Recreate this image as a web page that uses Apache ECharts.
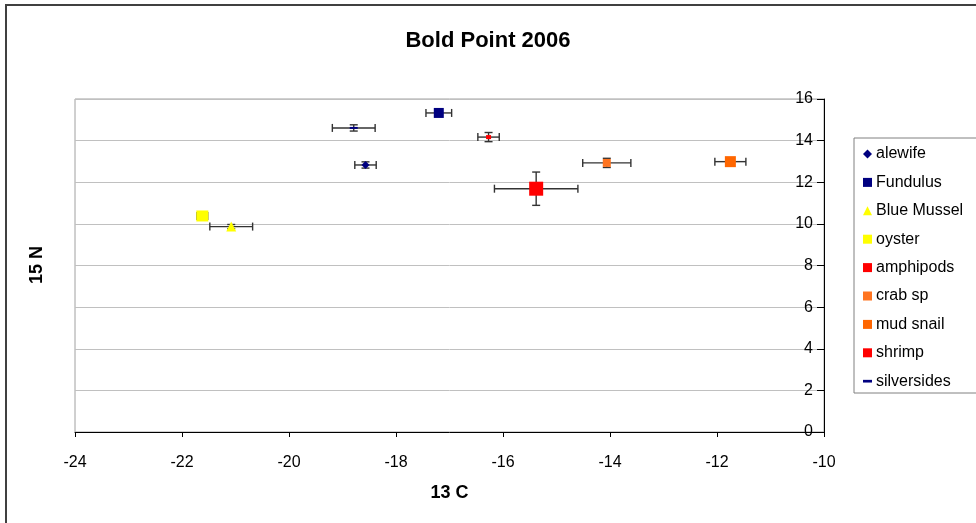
<!DOCTYPE html>
<html>
<head>
<meta charset="utf-8">
<script src="https://cdn.jsdelivr.net/npm/echarts@6/dist/echarts.min.js"></script>
<style>
  html, body { margin: 0; padding: 0; background: #fff; }
  #chart { width: 976px; height: 523px; }
</style>
</head>
<body>
<div id="chart"></div>
<script>
// species and their isotope values
var names   = ['alewife', 'Fundulus', 'Blue Mussel', 'oyster', 'amphipods', 'crab sp', 'mud snail', 'shrimp', 'silversides'];
var c13     = [-18.57, -17.2, -21.08, -21.62, -15.38, -14.06, -11.75, -16.27, -18.79];
var n15     = [12.83, 15.33, 9.87, 10.38, 11.69, 12.93, 12.99, 14.17, 14.61];
var c13Err  = [0.2, 0.24, 0.4, 0.1, 0.78, 0.45, 0.29, 0.2, 0.4];
var n15Err  = [0.15, 0.03, 0.1, 0.03, 0.8, 0.22, 0.1, 0.22, 0.15];
var xTicks  = [-24, -22, -20, -18, -16, -14, -12, -10];
var yTicks  = [0, 2, 4, 6, 8, 10, 12, 14, 16];

var colors  = ['#000080', '#000080', '#FFFF00', '#FFFF00', '#FF0000', '#FF7420', '#FF6600', '#FF0000', '#000080'];
var symbols = ['diamond', 'rect', 'triangle', 'rect', 'rect', 'rect', 'rect', 'rect', 'rect'];
var sizes   = [[8, 8], [10, 10], [10, 10], [12, 11], [14, 14], [8, 8], [11, 11], [5, 4], [8, 2]];
// legend icons: shrimp is a tiny dot, silversides a short dash
var legendIcons = ['diamond', 'rect', 'triangle', 'rect', 'rect', 'rect', 'rect',
  'path://M0,0h10v10h-10z', 'path://M0,0h10v3h-10z'];

var font = '"Liberation Sans", Arial, sans-serif';
var chart = echarts.init(document.getElementById('chart'));

var errData = names.map(function (n, i) { return [c13[i], n15[i], c13Err[i], n15Err[i]]; });

function renderErr(params, api) {
  var x = api.value(0), y = api.value(1), ex = api.value(2), ey = api.value(3);
  var l = api.coord([x - ex, y]), r = api.coord([x + ex, y]);
  var t = api.coord([x, y + ey]), b = api.coord([x, y - ey]);
  var cap = 4;
  var st = { stroke: '#333', lineWidth: 1.4 };
  function ln(x1, y1, x2, y2) { return { type: 'line', shape: { x1: x1, y1: y1, x2: x2, y2: y2 }, style: st }; }
  return {
    type: 'group',
    children: [
      ln(l[0], l[1], r[0], r[1]),
      ln(l[0], l[1] - cap, l[0], l[1] + cap),
      ln(r[0], r[1] - cap, r[0], r[1] + cap),
      ln(t[0], t[1], b[0], b[1]),
      ln(t[0] - cap, t[1], t[0] + cap, t[1]),
      ln(b[0] - cap, b[1], b[0] + cap, b[1])
    ]
  };
}

var series = [{
  type: 'custom',
  name: 'errors',
  renderItem: renderErr,
  data: errData,
  z: 1,
  silent: true
}];
names.forEach(function (n, i) {
  series.push({
    type: 'scatter',
    name: n,
    symbol: symbols[i],
    symbolSize: sizes[i],
    itemStyle: { color: colors[i], opacity: 1 },
    data: [[c13[i], n15[i]]],
    z: 2
  });
});

chart.setOption({
  animation: false,
  title: {
    text: 'Bold Point 2006',
    left: 'center',
    top: 25,
    textStyle: { fontFamily: font, fontSize: 22, fontWeight: 'bold', color: '#000' }
  },
  grid: {
    left: 75, right: 152, top: 99, bottom: 91,
    show: true, borderColor: '#a0a0a0', borderWidth: 1, backgroundColor: '#fff'
  },
  legend: {
    orient: 'vertical',
    left: 858, top: 141,
    itemWidth: 9, itemHeight: 9,
    itemGap: 12.4,
    data: names.map(function (n, i) { return { name: n, icon: legendIcons[i] }; }),
    textStyle: { fontFamily: font, fontSize: 16, color: '#000', padding: [0, 0, 0, -1] },
    selectedMode: false
  },
  xAxis: {
    type: 'value',
    min: -24, max: -10, interval: 2,
    name: '13 C',
    nameLocation: 'middle',
    nameGap: 52,
    nameTextStyle: { fontFamily: font, fontSize: 18, fontWeight: 'bold', color: '#000' },
    axisLine: { show: true, onZero: false, lineStyle: { color: '#000', width: 1 } },
    axisTick: { show: true, length: 5, lineStyle: { color: '#000' } },
    axisLabel: {
      fontFamily: font, fontSize: 16, color: '#000', margin: 23,
      formatter: function (v) { return xTicks.indexOf(v) >= 0 ? String(v) : ''; }
    },
    splitLine: { show: false }
  },
  yAxis: {
    type: 'value',
    position: 'right',
    min: 0, max: 16, interval: 2,
    axisLine: { show: true, lineStyle: { color: '#000', width: 1 } },
    axisTick: { show: true, inside: true, length: 7, lineStyle: { color: '#000' } },
    axisLabel: {
      inside: true, margin: 11,
      fontFamily: font, fontSize: 16, color: '#000',
      formatter: function (v) { return yTicks.indexOf(v) >= 0 ? String(v) : ''; }
    },
    splitLine: { show: true, lineStyle: { color: '#c0c0c0', width: 1 } }
  },
  graphic: [
    {
      type: 'rect', z: -10,
      shape: { x: 6, y: 5, width: 1000, height: 600 },
      style: { fill: 'none', stroke: '#404040', lineWidth: 2 }
    },
    {
      type: 'rect',
      shape: { x: 854, y: 138, width: 140, height: 255 },
      style: { fill: '#fff', stroke: '#808080', lineWidth: 1 },
      z: -5
    },
    {
      type: 'text',
      x: 37, y: 265,
      rotation: Math.PI / 2,
      style: {
        text: '15 N', fontFamily: font, fontSize: 18, fontWeight: 'bold', fill: '#000',
        align: 'center', verticalAlign: 'middle'
      }
    }
  ],
  series: series
});
</script>
</body>
</html>
